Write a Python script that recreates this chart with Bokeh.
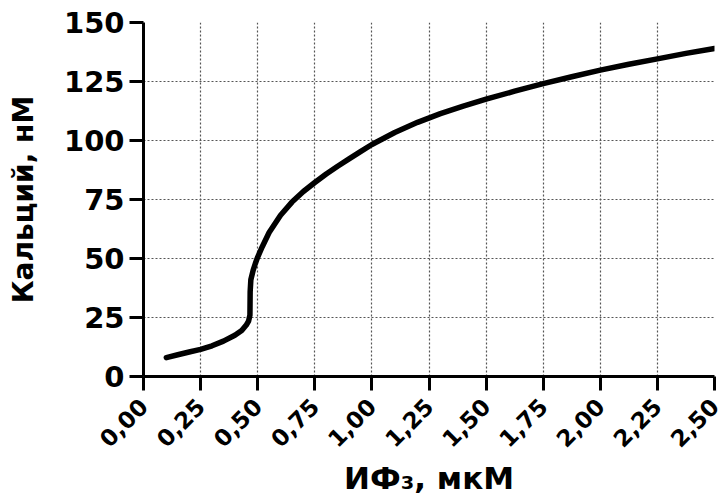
import math
from bokeh.plotting import figure
from bokeh.models import Range1d, FixedTicker
from bokeh.embed import file_html
from bokeh.resources import INLINE

# Data (IP3 in µM vs calcium in nM)
ip3 = [0.10, 0.15, 0.20, 0.25, 0.30, 0.35, 0.40, 0.43, 0.45, 0.46, 0.466, 0.467,
       0.470, 0.480, 0.490, 0.50, 0.52, 0.55, 0.60, 0.65, 0.70, 0.75, 0.80, 0.85,
       0.90, 0.95, 1.00, 1.10, 1.20, 1.30, 1.40, 1.50, 1.625, 1.75, 1.875, 2.00,
       2.125, 2.25, 2.375, 2.50]
calcium = [8.0, 9.2, 10.4, 11.5, 13.0, 15.0, 17.5, 19.5, 21.8, 23.5, 26.0, 36.0,
           41.0, 45.0, 48.0, 50.6, 55.0, 61.0, 68.3, 73.9, 78.4, 82.2, 85.8, 89.1,
           92.2, 95.3, 98.3, 103.4, 107.7, 111.4, 114.6, 117.5, 120.9, 124.1, 127.0, 129.8,
           132.3, 134.6, 136.9, 139.0]

x_ticks = [0.0, 0.25, 0.5, 0.75, 1.0, 1.25, 1.5, 1.75, 2.0, 2.25, 2.5]
x_tick_labels = ["0,00", "0,25", "0,50", "0,75", "1,00", "1,25", "1,50", "1,75", "2,00", "2,25", "2,50"]
y_ticks = [0, 25, 50, 75, 100, 125, 150]
y_tick_labels = ["0", "25", "50", "75", "100", "125", "150"]

x_title = "ИФ₃, мкМ"
y_title = "Кальций, нМ"

FONT = "DejaVu Sans"

p = figure(width=722, height=499, output_backend="svg", toolbar_location=None,
           x_range=Range1d(0, 2.5), y_range=Range1d(0, 150),
           min_border_left=143, min_border_right=8, min_border_top=22, min_border_bottom=123)
p.outline_line_color = None
p.background_fill_color = "white"
p.border_fill_color = "white"

p.line(ip3, calcium, line_width=5.5, line_color="black", line_cap="round", line_join="round")

# grids
for g in (p.xgrid, p.ygrid):
    g.grid_line_color = "#555555"
    g.grid_line_width = 1.2
    g.grid_line_dash = "2 2"
p.xgrid.ticker = FixedTicker(ticks=x_ticks)
p.ygrid.ticker = FixedTicker(ticks=y_ticks)

# axes
xa = p.xaxis[0]
ya = p.yaxis[0]
xa.ticker = FixedTicker(ticks=x_ticks)
ya.ticker = FixedTicker(ticks=y_ticks)
xa.major_label_overrides = {t: l for t, l in zip(x_ticks, x_tick_labels)}
ya.major_label_overrides = {t: l for t, l in zip(y_ticks, y_tick_labels)}
xa.major_label_orientation = math.pi / 4

for ax in (xa, ya):
    ax.axis_line_width = 3
    ax.axis_line_color = "black"
    ax.major_tick_line_width = 3
    ax.major_tick_line_color = "black"
    ax.major_tick_out = 14
    ax.major_tick_in = 0
    ax.minor_tick_line_color = None
    ax.major_label_text_font = FONT
    ax.major_label_text_font_style = "bold"
    ax.major_label_text_color = "black"
    ax.axis_label_text_font = FONT
    ax.axis_label_text_font_style = "bold"
    ax.axis_label_text_color = "black"

xa.major_label_text_font_size = "23px"
ya.major_label_text_font_size = "29px"
xa.major_label_standoff = 12
ya.major_label_standoff = 5

xa.axis_label = x_title
ya.axis_label = y_title
xa.axis_label_text_font_size = "31px"
ya.axis_label_text_font_size = "28px"
xa.axis_label_standoff = 2
ya.axis_label_standoff = 21

open("out.html", "w").write(file_html(p, INLINE))
